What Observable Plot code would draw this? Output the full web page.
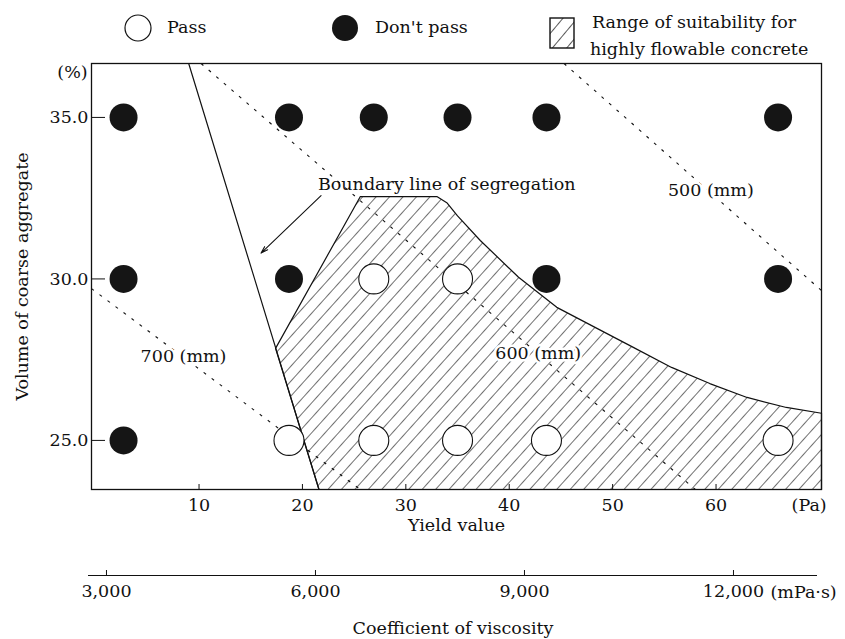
<!DOCTYPE html>
<html>
<head>
<meta charset="utf-8">
<script src="https://cdn.jsdelivr.net/npm/d3@7"></script>
<script src="https://cdn.jsdelivr.net/npm/@observablehq/plot@0.6"></script>
<style>
  body { margin: 0; background: #fff; }
  #wrap { position: relative; width: 845px; height: 639px; font-family: "DejaVu Serif", serif; color: #111; overflow: hidden; }
  .lg { position: absolute; font-size: 17.5px; line-height: 1; white-space: nowrap; }
  .abs { position: absolute; left: 0; }
</style>
</head>
<body>
<div id="wrap">
  <svg class="abs" style="left:124px;top:14px" width="28" height="28"><circle cx="14" cy="14" r="13" fill="#fff" stroke="#111" stroke-width="1.2"/></svg>
  <div class="lg" style="left:167px;top:19px">Pass</div>
  <svg class="abs" style="left:331px;top:14px" width="28" height="28"><circle cx="14" cy="14" r="13" fill="#151515"/></svg>
  <div class="lg" style="left:375px;top:19px">Don't pass</div>
  <svg class="abs" style="left:549px;top:17px" width="27" height="33">
    <defs><pattern id="lghatch" patternUnits="userSpaceOnUse" width="11" height="11" patternTransform="rotate(40)"><rect width="11" height="11" fill="#fff"/><line x1="0" y1="0" x2="0" y2="11" stroke="#111" stroke-width="1.4"/></pattern></defs>
    <rect x="1" y="1" width="24" height="30" fill="url(#lghatch)" stroke="#111" stroke-width="1.4"/>
  </svg>
  <div class="lg" style="left:592px;top:14px">Range of suitability for</div>
  <div class="lg" style="left:590px;top:41px">highly flowable concrete</div>
</div>
<script>
// ---------- data ----------
const yieldCols = [2.7, 18.7, 26.9, 35.0, 43.6, 66.0];           // yield value (Pa)
const aggregateRows = [35.0, 30.0, 25.0];                          // volume of coarse aggregate (%)
const results35 = ["Don't pass", "Don't pass", "Don't pass", "Don't pass", "Don't pass", "Don't pass"];
const results30 = ["Don't pass", "Don't pass", "Pass", "Pass", "Don't pass", "Don't pass"];
const results25 = ["Don't pass", "Pass", "Pass", "Pass", "Pass", "Pass"];

const yieldTicks = [10, 20, 30, 40, 50, 60];
const aggregateTicks = [25, 30, 35];
const viscosityTicks = [3000, 6000, 9000, 12000];

// boundary line of segregation
const segregationX = [9.0, 21.6];
const segregationY = [36.67, 23.48];

// range of suitability (outline)
const suitX = [21.6, 17.4, 25.6, 33.0, 34.0, 35.0, 37.2, 40.9, 44.6, 48.3, 52.0, 55.7, 59.4, 63.0, 66.8, 70.2, 70.2];
const suitY = [23.48, 27.85, 32.55, 32.55, 32.35, 31.95, 31.19, 30.05, 29.12, 28.50, 27.88, 27.26, 26.76, 26.33, 26.02, 25.84, 23.48];

// slump-flow iso-lines
const flowNames = ["700 (mm)", "600 (mm)", "500 (mm)"];
const flowX1 = [-0.4, 10.2, 45.3];
const flowY1 = [29.7, 36.67, 36.67];
const flowX2 = [25.6, 58.0, 70.2];
const flowY2 = [23.48, 23.48, 29.64];
const flowLabelX = [8.5, 42.8, 59.5];
const flowLabelY = [27.6, 27.7, 32.74];

const arrowFrom = [21.8, 32.58];
const arrowTo = [16.0, 30.8];
const boundaryLabel = "Boundary line of segregation";
const boundaryLabelAt = [21.5, 32.92];

// ---------- derived tables ----------
const resultsByRow = [results35, results30, results25];
const points = aggregateRows.flatMap((row, i) => yieldCols.map((x, j) => ({x, y: row, result: resultsByRow[i][j]})));
const region = suitX.map((x, i) => ({x, y: suitY[i]}));
const segregation = segregationX.map((x, i) => ({x, y: segregationY[i]}));
const flows = flowNames.map((name, i) => ({name, x1: flowX1[i], y1: flowY1[i], x2: flowX2[i], y2: flowY2[i], lx: flowLabelX[i], ly: flowLabelY[i]}));

const ink = "#111";
const font = {fontFamily: "DejaVu Serif, serif", fontSize: "17.5px", color: ink, background: "transparent", overflow: "visible"};

const main = Plot.plot({
  width: 845,
  height: 639,
  marginTop: 63,
  marginBottom: 150,
  marginLeft: 91,
  marginRight: 24,
  style: font,
  x: {domain: [-0.4, 70.2]},
  y: {domain: [23.48, 36.67]},
  marks: [
    Plot.line(region, {x: "x", y: "y", curve: "linear-closed", fill: "url(#hatch)", stroke: ink, strokeWidth: 1.2}),
    Plot.link(flows, {x1: "x1", y1: "y1", x2: "x2", y2: "y2", stroke: ink, strokeWidth: 1.1, strokeDasharray: "3,7"}),
    Plot.text(flows, {x: "lx", y: "ly", text: "name", fill: ink, stroke: "white", strokeWidth: 5}),
    Plot.line(segregation, {x: "x", y: "y", stroke: ink, strokeWidth: 1.2}),
    Plot.arrow([{x1: arrowFrom[0], y1: arrowFrom[1], x2: arrowTo[0], y2: arrowTo[1]}], {x1: "x1", y1: "y1", x2: "x2", y2: "y2", stroke: ink, strokeWidth: 1.1, headLength: 10, headAngle: 35}),
    Plot.text([{x: boundaryLabelAt[0], y: boundaryLabelAt[1], t: boundaryLabel}], {x: "x", y: "y", text: "t", textAnchor: "start", fill: ink}),
    Plot.dot(points.filter(d => d.result === "Don't pass"), {x: "x", y: "y", r: 14, fill: "#151515"}),
    Plot.dot(points.filter(d => d.result === "Pass"), {x: "x", y: "y", r: 15, fill: "white", stroke: ink, strokeWidth: 1.1}),
    Plot.frame({stroke: ink, strokeWidth: 1.3}),
    Plot.axisX({ticks: yieldTicks, tickSize: -5, tickPadding: 14, label: null, stroke: ink}),
    Plot.axisY({ticks: aggregateTicks, tickSize: -14, tickPadding: 17, tickFormat: d3.format(".1f"), label: null, stroke: ink}),
    Plot.text([{x: 69, t: "(Pa)"}], {x: "x", text: "t", frameAnchor: "bottom", dy: 16, lineAnchor: "middle", fill: ink}),
    Plot.text(["(%)"], {text: d => d, frameAnchor: "top-left", dx: -19, dy: 9, textAnchor: "middle", lineAnchor: "middle", fill: ink}),
    Plot.text(["Yield value"], {text: d => d, frameAnchor: "bottom", dy: 36, lineAnchor: "middle", fill: ink}),
    Plot.text(["Volume of coarse aggregate"], {text: d => d, frameAnchor: "left", dx: -69, rotate: -90, textAnchor: "middle", lineAnchor: "middle", fill: ink})
  ]
});

// hatch pattern definition for the suitability region
const defs = d3.select(main).insert("defs", ":first-child");
const pat = defs.append("pattern").attr("id", "hatch").attr("patternUnits", "userSpaceOnUse")
  .attr("width", 10).attr("height", 10).attr("patternTransform", "rotate(42)");
pat.append("rect").attr("width", 10).attr("height", 10).attr("fill", "#fff");
pat.append("line").attr("x1", 0).attr("y1", 0).attr("x2", 0).attr("y2", 10).attr("stroke", ink).attr("stroke-width", 1.2);

main.style.position = "absolute";
main.style.left = "0px";
main.style.top = "0px";

const visc = Plot.plot({
  width: 845,
  height: 84,
  marginTop: 19,
  marginBottom: 64,
  marginLeft: 88,
  marginRight: 28,
  style: font,
  x: {domain: [2742, 13206]},
  y: {domain: [0, 1], axis: null},
  marks: [
    Plot.ruleY([0], {stroke: ink, strokeWidth: 1.2}),
    Plot.axisX({ticks: viscosityTicks, tickSize: -5, tickPadding: 14, tickFormat: d3.format(","), label: null, stroke: ink}),
    Plot.text([{v: 12000, t: "(mPa·s)"}], {x: "v", text: "t", frameAnchor: "bottom", dx: 37, dy: 17, textAnchor: "start", lineAnchor: "middle", fill: ink}),
    Plot.text(["Coefficient of viscosity"], {text: d => d, frameAnchor: "bottom", dy: 53, lineAnchor: "middle", fill: ink})
  ]
});
visc.style.position = "absolute";
visc.style.left = "0px";
visc.style.top = "555px";

const wrap = document.getElementById("wrap");
wrap.insertBefore(main, wrap.firstChild);
wrap.appendChild(visc);
</script>
</body>
</html>
